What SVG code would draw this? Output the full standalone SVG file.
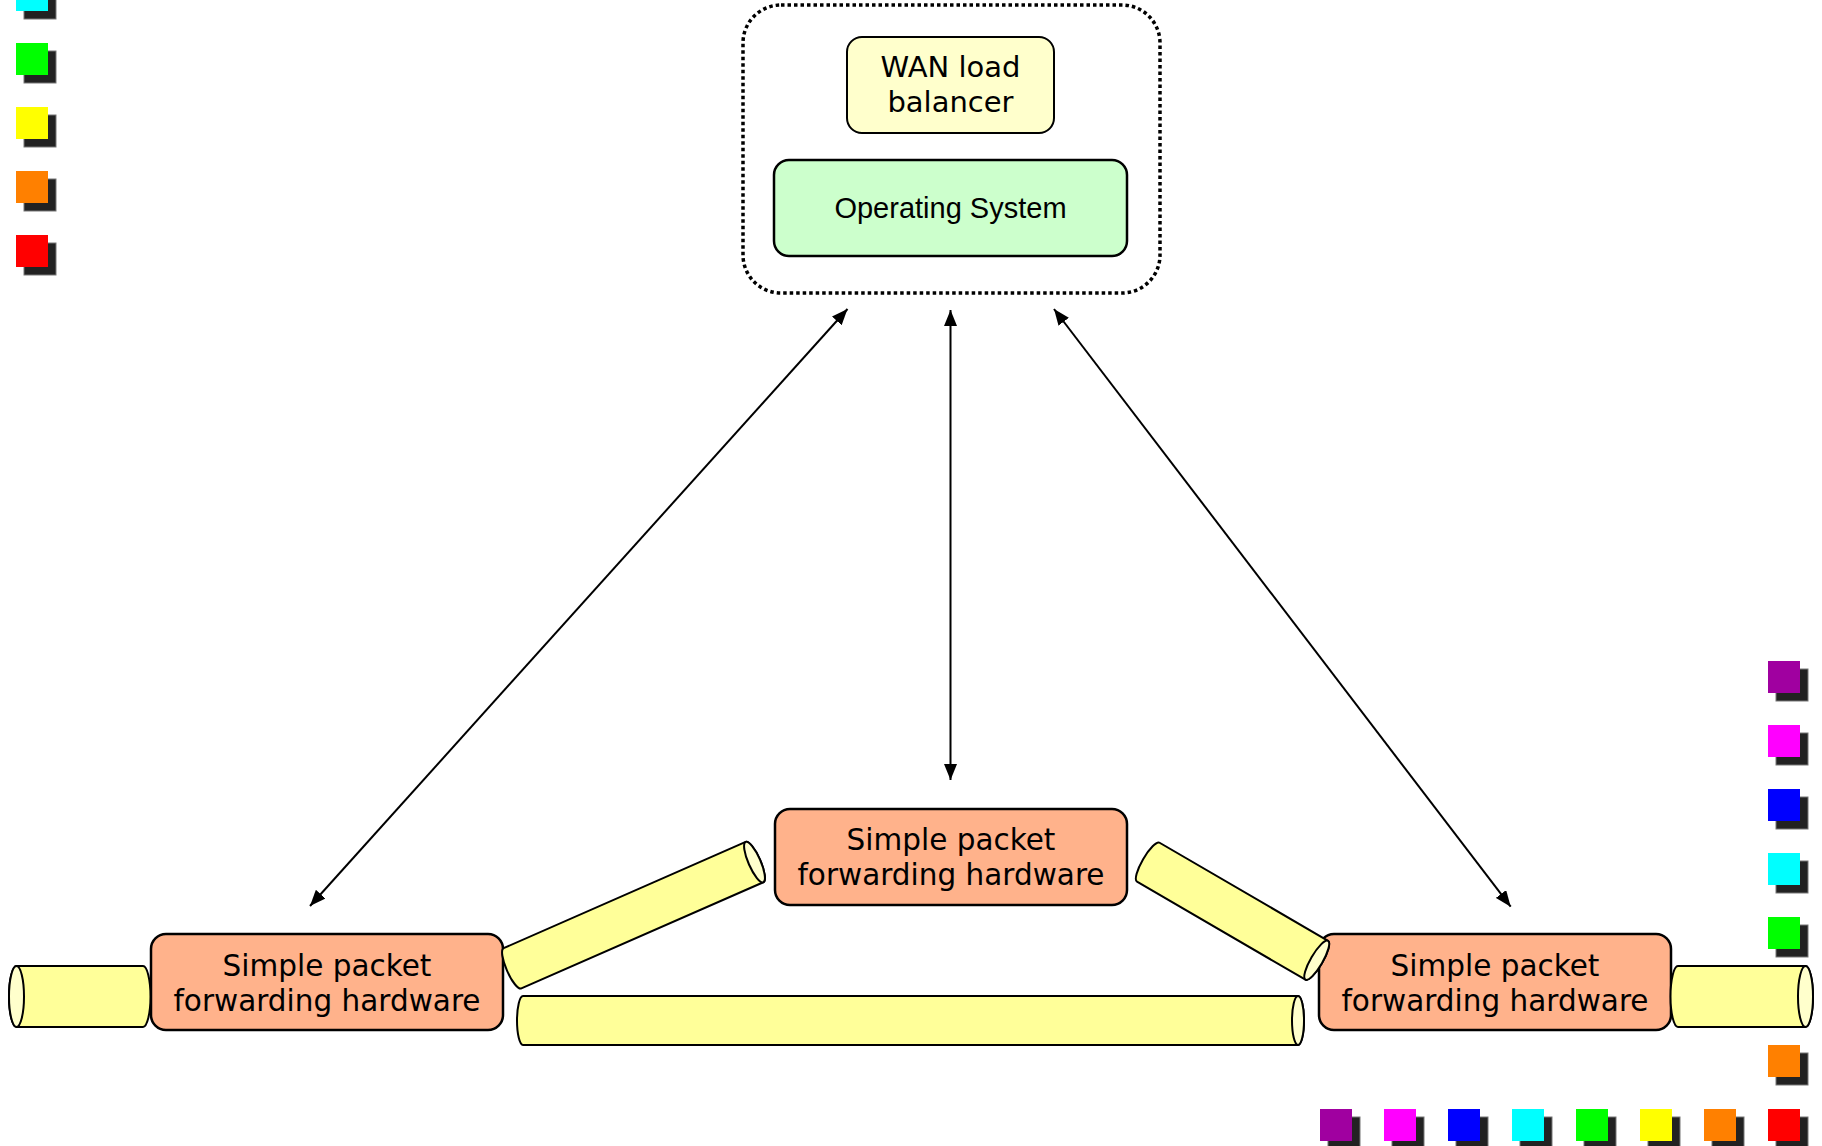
<svg xmlns="http://www.w3.org/2000/svg" width="1822" height="1146" viewBox="0 0 1822 1146">
<style>
.node{fill:#ffb28b;stroke:#000;stroke-width:2.5}
.lbl{font-family:"DejaVu Sans",Verdana,sans-serif;font-size:29.5px;fill:#000;text-anchor:middle}
.pipe{fill:#ffff99;stroke:#000;stroke-width:2}
.cap{fill:#ffffcc;stroke:#000;stroke-width:2}
.conn{stroke:#000;stroke-width:2;fill:none;marker-start:url(#ah);marker-end:url(#ah)}
.sh{fill:#222;stroke:#777;stroke-width:1}
</style>
<defs>
<marker id="ah" viewBox="0 0 16 13" refX="16" refY="6.5" markerWidth="16" markerHeight="13" markerUnits="userSpaceOnUse" orient="auto-start-reverse">
<path d="M0,0 L16,6.5 L0,13 z" fill="#000"/>
</marker>
</defs>
<rect width="1822" height="1146" fill="#fff"/>

<g id="legend-left">
<rect class="sh" x="24" y="-13" width="32" height="32"/><rect x="16" y="-21" width="32" height="32" fill="#00ffff"/>
<rect class="sh" x="24" y="51" width="32" height="32"/><rect x="16" y="43" width="32" height="32" fill="#00ff00"/>
<rect class="sh" x="24" y="115" width="32" height="32"/><rect x="16" y="107" width="32" height="32" fill="#ffff00"/>
<rect class="sh" x="24" y="179" width="32" height="32"/><rect x="16" y="171" width="32" height="32" fill="#ff8000"/>
<rect class="sh" x="24" y="243" width="32" height="32"/><rect x="16" y="235" width="32" height="32" fill="#ff0000"/>
</g>

<g id="legend-right">
<rect class="sh" x="1776" y="669" width="32" height="32"/><rect x="1768" y="661" width="32" height="32" fill="#a000a0"/>
<rect class="sh" x="1776" y="733" width="32" height="32"/><rect x="1768" y="725" width="32" height="32" fill="#ff00ff"/>
<rect class="sh" x="1776" y="797" width="32" height="32"/><rect x="1768" y="789" width="32" height="32" fill="#0000ff"/>
<rect class="sh" x="1776" y="861" width="32" height="32"/><rect x="1768" y="853" width="32" height="32" fill="#00ffff"/>
<rect class="sh" x="1776" y="925" width="32" height="32"/><rect x="1768" y="917" width="32" height="32" fill="#00ff00"/>
<rect class="sh" x="1776" y="1053" width="32" height="32"/><rect x="1768" y="1045" width="32" height="32" fill="#ff8000"/>
</g>

<g id="legend-bottom">
<rect class="sh" x="1328" y="1117" width="32" height="32"/><rect x="1320" y="1109" width="32" height="32" fill="#a000a0"/>
<rect class="sh" x="1392" y="1117" width="32" height="32"/><rect x="1384" y="1109" width="32" height="32" fill="#ff00ff"/>
<rect class="sh" x="1456" y="1117" width="32" height="32"/><rect x="1448" y="1109" width="32" height="32" fill="#0000ff"/>
<rect class="sh" x="1520" y="1117" width="32" height="32"/><rect x="1512" y="1109" width="32" height="32" fill="#00ffff"/>
<rect class="sh" x="1584" y="1117" width="32" height="32"/><rect x="1576" y="1109" width="32" height="32" fill="#00ff00"/>
<rect class="sh" x="1648" y="1117" width="32" height="32"/><rect x="1640" y="1109" width="32" height="32" fill="#ffff00"/>
<rect class="sh" x="1712" y="1117" width="32" height="32"/><rect x="1704" y="1109" width="32" height="32" fill="#ff8000"/>
<rect class="sh" x="1776" y="1117" width="32" height="32"/><rect x="1768" y="1109" width="32" height="32" fill="#ff0000"/>
</g>

<g id="controller">
<rect x="743" y="5" width="417" height="288" rx="38" fill="none" stroke="#000" stroke-width="3.5" stroke-dasharray="3.5 3"/>
<g id="wan-lb">
<rect x="847" y="37" width="207" height="96" rx="15" fill="#ffffcc" stroke="#000" stroke-width="2"/>
<text class="lbl" x="950.5" y="77" style="font-size:29px">WAN load</text>
<text class="lbl" x="950.5" y="112" style="font-size:29px">balancer</text>
</g>
<g id="os">
<rect x="774" y="160" width="353" height="96" rx="15" fill="#ccffcc" stroke="#000" stroke-width="2.5"/>
<text x="950.5" y="218" text-anchor="middle" font-family="'Liberation Sans',Arial,sans-serif" font-size="29">Operating System</text>
</g>
</g>

<g id="fwd-middle">
<rect class="node" x="775" y="809" width="352" height="96" rx="15"/>
<text class="lbl" x="951" y="850">Simple packet</text>
<text class="lbl" x="951" y="885">forwarding hardware</text>
</g>
<g id="fwd-left">
<rect class="node" x="151" y="934" width="352" height="96" rx="15"/>
<text class="lbl" x="327" y="976">Simple packet</text>
<text class="lbl" x="327" y="1011">forwarding hardware</text>
</g>
<g id="fwd-right">
<rect class="node" x="1319" y="934" width="352" height="96" rx="15"/>
<text class="lbl" x="1495" y="976">Simple packet</text>
<text class="lbl" x="1495" y="1011">forwarding hardware</text>
</g>

<g id="links">
<g transform="translate(143,996.5) rotate(180)">
<path class="pipe" d="M0,-30.5 L126.5,-30.5 A7.5,30.5 0 0 1 126.5,30.5 L0,30.5 A7.5,30.5 0 0 1 0,-30.5 Z"/>
<ellipse class="cap" cx="126.5" cy="0" rx="7.5" ry="30.5"/>
</g>
<g transform="translate(1678,996.5)">
<path class="pipe" d="M0,-30.5 L127.5,-30.5 A7.5,30.5 0 0 1 127.5,30.5 L0,30.5 A7.5,30.5 0 0 1 0,-30.5 Z"/>
<ellipse class="cap" cx="127.5" cy="0" rx="7.5" ry="30.5"/>
</g>
<g transform="translate(523,1020.5)">
<path class="pipe" d="M0,-24.5 L775,-24.5 A6,24.5 0 0 1 775,24.5 L0,24.5 A6,24.5 0 0 1 0,-24.5 Z"/>
<ellipse class="cap" cx="775" cy="0" rx="6" ry="24.5"/>
</g>
<g transform="translate(512.5,968.3) rotate(-23.7)">
<path class="pipe" d="M0,-22 L264.3,-22 A6,22 0 0 1 264.3,22 L0,22 A6,22 0 0 1 0,-22 Z"/>
<ellipse class="cap" cx="264.3" cy="0" rx="6" ry="22"/>
</g>
<g transform="translate(1148.3,862.2) rotate(30.2)">
<path class="pipe" d="M0,-22.5 L194.9,-22.5 A6,22.5 0 0 1 194.9,22.5 L0,22.5 A6,22.5 0 0 1 0,-22.5 Z"/>
<ellipse class="cap" cx="194.9" cy="0" rx="6" ry="22.5"/>
</g>
</g>

<g id="connectors">
<line class="conn" x1="310" y1="906" x2="847.5" y2="309"/>
<line class="conn" x1="950.5" y1="310" x2="950.5" y2="780"/>
<line class="conn" x1="1054" y1="309" x2="1510.7" y2="906.7"/>
</g>
</svg>
